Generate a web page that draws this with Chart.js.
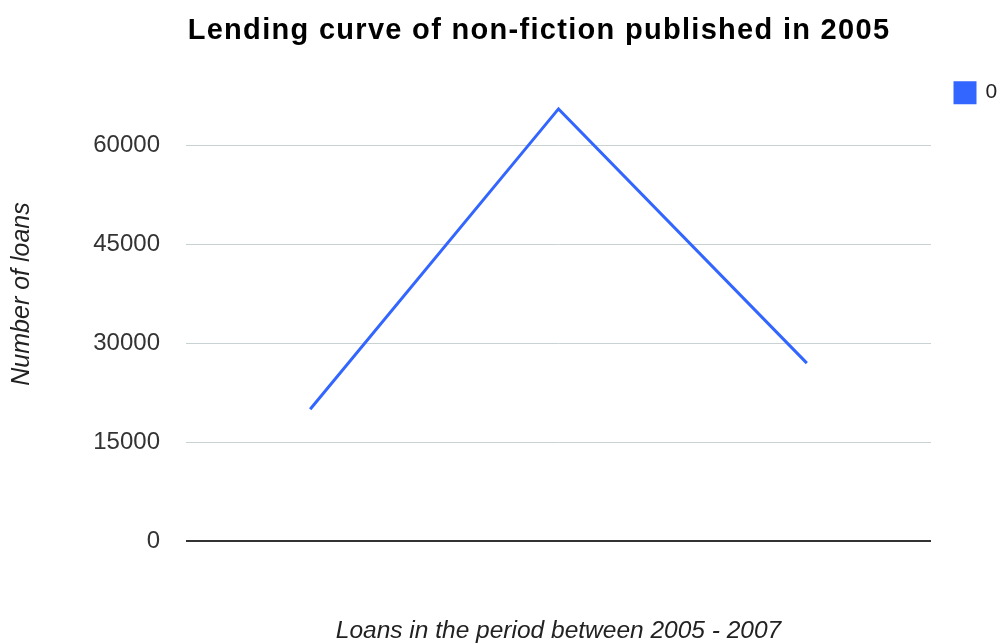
<!DOCTYPE html>
<html lang="en">
  <head>
    <meta charset="UTF-8" />
    <title>Lending curve of non-fiction published in 2005</title>
    <script src="https://cdn.jsdelivr.net/npm/chart.js"></script>
    <style>
      html, body { margin: 0; padding: 0; background: #fff; }
      #wrap { width: 1005px; height: 643px; position: relative; }
    </style>
  </head>
  <body>
    <div id="wrap"><canvas id="lendingChart"></canvas></div>
    <script>
      // chart data
      const chartTitle = "Lending curve of non-fiction published in 2005";
      const periods = ["2005", "2006", "2007"];
      const seriesName = "0";
      const loans = [20000, 65600, 27000];
      const yTicks = [0, 15000, 30000, 45000, 60000];
      const yMax = 75000;
      const xTitle = "Loans in the period between 2005 - 2007";
      const yTitle = "Number of loans";

      const fontFamily = "'Liberation Sans', Arial, sans-serif";

      // title drawn by hand so it can sit off-centre like the original
      const titlePlugin = {
        id: "offsetTitle",
        afterDraw(chart) {
          const ctx = chart.ctx;
          ctx.save();
          ctx.font = "bold 29px " + fontFamily;
          ctx.letterSpacing = "1.3px";
          ctx.fillStyle = "#000";
          ctx.textAlign = "center";
          ctx.textBaseline = "middle";
          ctx.fillText(chartTitle, 539, 31);
          ctx.restore();
        },
      };

      new Chart(document.getElementById("lendingChart"), {
        type: "line",
        data: {
          labels: periods,
          datasets: [
            {
              label: seriesName,
              data: loans,
              borderColor: "#3366ff",
              backgroundColor: "#3366ff",
              borderWidth: 3,
              pointRadius: 0,
              tension: 0,
            },
          ],
        },
        options: {
          responsive: true,
          maintainAspectRatio: false,
          animation: false,
          layout: { padding: { top: 47, left: 0, right: 0, bottom: 0 } },
          plugins: {
            legend: {
              position: "right",
              align: "start",
              maxWidth: 74,
              title: { display: true, text: " ", font: { size: 1 }, padding: { top: 0, bottom: 10 } },
              labels: {
                boxWidth: 20,
                boxHeight: 20,
                padding: 24,
                color: "#222",
                font: { family: fontFamily, size: 21 },
              },
            },
            tooltip: { enabled: false },
          },
          scales: {
            x: {
              offset: true,
              grid: { display: false },
              border: { display: false },
              ticks: { display: false },
              title: {
                display: true,
                text: xTitle,
                color: "#222",
                font: { family: fontFamily, size: 24.5, style: "italic", lineHeight: 1 },
                padding: { top: 0, bottom: 0 },
              },
              afterFit(scale) {
                scale.height = 102;
              },
            },
            y: {
              min: 0,
              max: yMax,
              afterBuildTicks(scale) {
                scale.ticks = yTicks.map((v) => ({ value: v }));
              },
              grid: {
                drawTicks: false,
                color: (ctx) => (ctx.tick && ctx.tick.value === 0 ? "#333" : "#c9d2d2"),
                lineWidth: (ctx) => (ctx.tick && ctx.tick.value === 0 ? 2 : 1),
              },
              border: { display: false },
              ticks: {
                padding: 26,
                color: "#333",
                font: { family: fontFamily, size: 24 },
                callback: (v) => String(v),
              },
              title: {
                display: true,
                text: yTitle,
                color: "#222",
                font: { family: fontFamily, size: 25, style: "italic", lineHeight: 1 },
                padding: { top: 10, bottom: 0 },
              },
              afterFit(scale) {
                scale.width = 186;
              },
            },
          },
        },
        plugins: [titlePlugin],
      });
    </script>
  </body>
</html>
